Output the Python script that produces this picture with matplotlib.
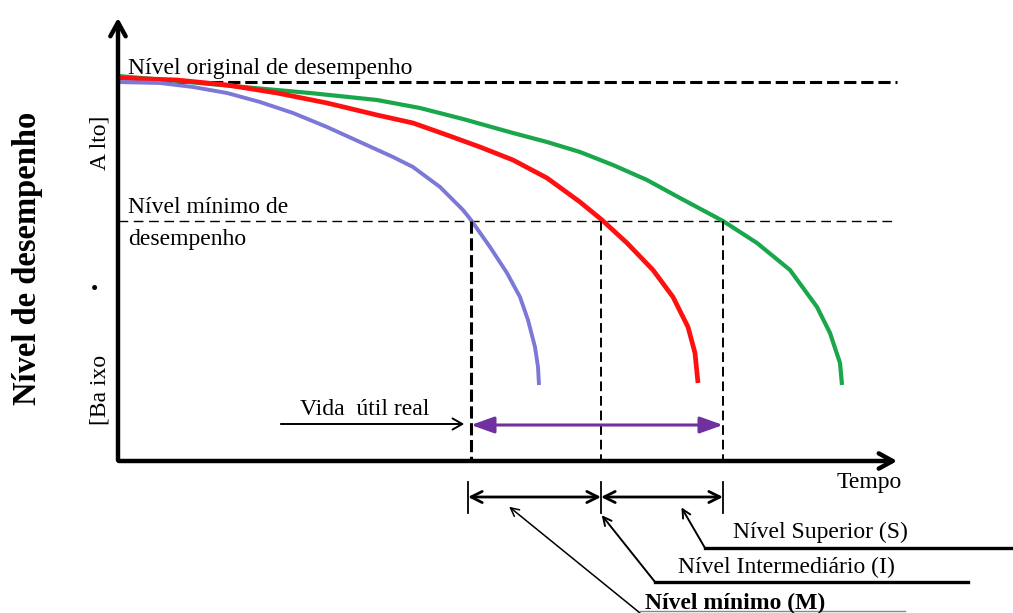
import numpy as np
import matplotlib.pyplot as plt

plt.rcParams['font.family'] = ['Liberation Serif', 'DejaVu Serif']

# time (t) and performance level (L); origin of the schematic at (0, 0)
t_blue = [0, 42, 75, 109, 142, 175, 209, 242, 275, 295, 322, 345, 353, 372, 389, 402, 410, 417, 420, 421]
L_blue = [379, 378, 374, 368, 359, 348, 334, 319, 304, 294, 274, 251, 241, 214, 188, 164, 141, 114, 94, 76]

t_red = [0, 59, 109, 159, 209, 259, 295, 329, 362, 395, 429, 462, 484, 509, 535, 555, 570, 577, 580]
L_red = [383, 381, 376, 368, 358, 346, 338, 326, 314, 301, 283, 259, 241, 218, 191, 164, 134, 108, 78]

t_green = [0, 59, 125, 192, 259, 302, 345, 395, 429, 462, 495, 529, 562, 605, 639, 672, 699, 712, 722, 724]
L_green = [385, 380, 374, 368, 361, 353, 342, 328, 319, 309, 296, 281, 263, 240, 218, 191, 154, 128, 98, 76]

level_original = 379
level_minimum = 240
life_ends = [353, 483, 605]  # M, I, S

fig = plt.figure(figsize=(10.13, 6.13), dpi=100)
ax = fig.add_axes([0, 0, 1, 1])
ax.set_xlim(-118, 895)
ax.set_ylim(-152, 461)
ax.axis('off')

fs = 17

# axes with arrows
ax.annotate('', xy=(0, 446), xytext=(0, -2),
            arrowprops=dict(arrowstyle='->,head_length=1.0,head_width=0.55', lw=3.2, color='black'))
ax.annotate('', xy=(782, 0), xytext=(-2, 0),
            arrowprops=dict(arrowstyle='->,head_length=1.0,head_width=0.55', lw=3.2, color='black'))

# reference levels
ax.plot([7, 779], [level_original] * 2, color='black', lw=2.2, dashes=(4, 1.6))
ax.plot([0, 779], [level_minimum] * 2, color='black', lw=1.0, dashes=(7, 4))

# curves
ax.plot(t_green, L_green, color='#1aa64a', lw=3.0, solid_capstyle='butt', solid_joinstyle='round')
ax.plot(t_red, L_red, color='#ff1010', lw=3.4, solid_capstyle='butt', solid_joinstyle='round')
ax.plot(t_blue, L_blue, color='#7b78d8', lw=2.8, solid_capstyle='butt', solid_joinstyle='round')

# vertical dashed lines down to the time axis
ax.plot([life_ends[0]] * 2, [level_minimum, 0], color='black', lw=2.2, dashes=(4, 1.5))
for t in life_ends[1:]:
    ax.plot([t] * 2, [level_minimum, 0], color='black', lw=1.4, dashes=(5, 2.5))

# useful life arrows
ax.annotate('', xy=(life_ends[0] - 4, 37), xytext=(160, 37),
            arrowprops=dict(arrowstyle='->,head_length=0.7,head_width=0.4', lw=1.4, color='black'))
ax.annotate('', xy=(life_ends[2], 36), xytext=(life_ends[0], 36),
            arrowprops=dict(arrowstyle='<|-|>,head_length=1.4,head_width=0.5', lw=2.2, color='#7030a0',
                            shrinkA=0, shrinkB=0))
ax.text(182, 46, 'Vida  útil real', fontsize=fs, va='baseline', ha='left')

# dimension arrows below the axis
for t in [life_ends[0] - 3, life_ends[1], life_ends[2]]:
    ax.plot([t, t], [-21, -52], color='black', lw=1.3)
for a, b in [(life_ends[0] - 3, life_ends[1]), (life_ends[1], life_ends[2])]:
    ax.annotate('', xy=(b, -36), xytext=(a, -36),
                arrowprops=dict(arrowstyle='<->,head_length=0.8,head_width=0.4', lw=2.0, color='black',
                                shrinkA=0, shrinkB=0))

# leaders
ax.annotate('', xy=(562, -44), xytext=(587, -87),
            arrowprops=dict(arrowstyle='->,head_length=0.6,head_width=0.3', lw=1.4, color='black', shrinkA=0))
ax.plot([587, 895], [-87, -87], color='black', lw=2.4)
ax.text(615, -77, 'Nível Superior (S)', fontsize=fs, va='baseline')

ax.annotate('', xy=(482, -52), xytext=(537, -121),
            arrowprops=dict(arrowstyle='->,head_length=0.6,head_width=0.3', lw=1.4, color='black', shrinkA=0))
ax.plot([537, 850], [-121, -121], color='black', lw=2.4)
ax.text(560, -112, 'Nível Intermediário (I)', fontsize=fs, va='baseline')

ax.annotate('', xy=(389, -44), xytext=(522, -152),
            arrowprops=dict(arrowstyle='->,head_length=0.6,head_width=0.3', lw=1.1, color='black', shrinkA=0))
ax.plot([522, 787], [-150, -150], color='#888888', lw=1.0)
ax.text(527, -148, 'Nível mínimo (M)', fontsize=fs, fontweight='bold', va='baseline')

# labels
ax.text(10, 387, 'Nível original de desempenho', fontsize=fs, va='baseline')
ax.text(10, 248, 'Nível mínimo de', fontsize=fs, va='baseline')
ax.text(10, 216, 'desempenho', fontsize=fs, va='baseline')
ax.text(751, -27, 'Tempo', fontsize=fs, va='baseline', ha='center')

ax.text(-90, 203, 'Nível de desempenho', fontsize=23.5, fontweight='bold', rotation=90,
        ha='center', va='center')
ax.text(-18, 318, 'A lto]', fontsize=fs, rotation=90, ha='center', va='center')
ax.text(-23, 171, '•', fontsize=15, ha='center', va='center')
ax.text(-18, 71, '[Ba ixo', fontsize=fs, rotation=90, ha='center', va='center')

fig.savefig('out.png', dpi=100)
